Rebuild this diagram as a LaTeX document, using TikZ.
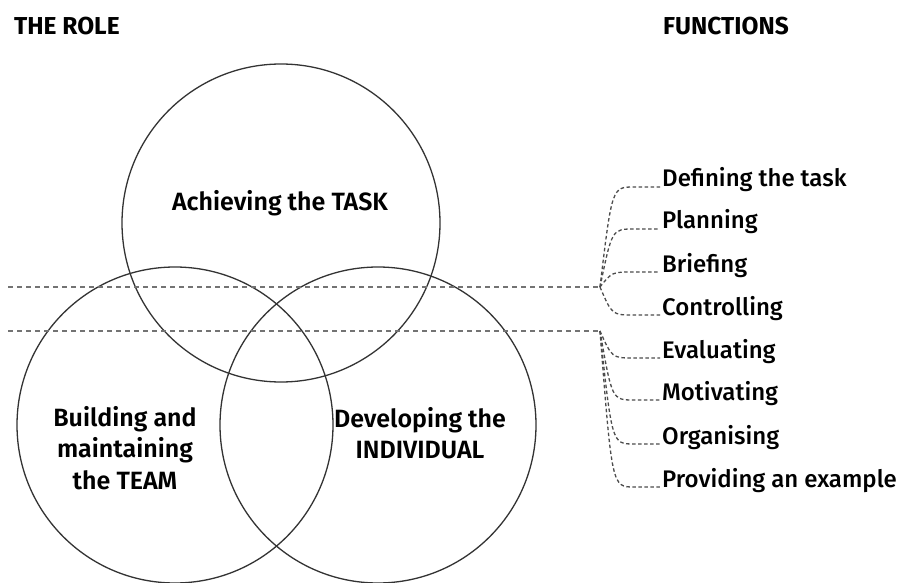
\documentclass[tikz,border=0pt]{standalone}
\usepackage{fontspec}
\setmainfont{Fira Sans}
\newfontfamily\itemfont{Fira Sans Medium}
\newfontfamily\rolefont{Fira Sans SemiBold}
\usetikzlibrary{positioning}

\begin{document}
\begin{tikzpicture}[x=1pt,y=-1pt,
    ring/.style={shape=circle, draw=black!80, line width=1.3pt, inner sep=0pt},
    rolelabel/.style={font=\rolefont\fontsize{25}{31.5}\selectfont, align=center, inner sep=0pt},
    heading/.style={font=\fontsize{24.5}{28}\selectfont\bfseries, anchor=base west, inner sep=0pt},
    item/.style={font=\itemfont\fontsize{24}{28}\selectfont, anchor=base west, inner sep=0pt},
    divider/.style={draw=black!55, line width=1.3pt, dash pattern=on 5pt off 4pt},
    branch/.style={draw=black!70, line width=1.3pt, dash pattern=on 3.5pt off 2.5pt}]
    \useasboundingbox (0,0) rectangle (903,583);

    % headings
    \node[heading] (role) at (14,35) {THE ROLE};
    \node[heading] (functions) at (663,35) {FUNCTIONS};

    % the three circles
    \node[ring, minimum size=318pt] (task) at (281,223) {};
    \node[ring, minimum size=316pt] (team) at (175,425) {};
    \node[ring, minimum size=316pt] (indiv) at (378,425) {};

    \node[rolelabel, anchor=base] (tasklabel) at (280,211) {Achieving the TASK};
    \node[rolelabel] (teamlabel) at (125,448) {Building and\\maintaining\\the TEAM};
    \node[rolelabel] (indivlabel) at (420,433) {Developing the\\INDIVIDUAL};

    % dashed dividers
    \coordinate (lineA) at (8,287);
    \coordinate (jA) at (600,287);
    \coordinate (lineB) at (8,331);
    \coordinate (jB) at (600,331);
    \draw[divider] (lineA) -- (jA);
    \draw[divider] (lineB) -- (jB);

    % functions and their branches
    \foreach \name/\txt/\y/\j in {f1/Defining the task/187/jA, f2/Planning/229/jA,
        f3/Briefing/272/jA, f4/Controlling/315/jA, f5/Evaluating/358/jB,
        f6/Motivating/400/jB, f7/Organising/444/jB, f8/Providing an example/487/jB}{
        \node[item] (\name) at (662,\y) {\txt};
        \draw[branch] (\j) .. controls (612,\y) .. (634,\y) -- ([xshift=-2pt]\name.base west);
    }
\end{tikzpicture}
\end{document}
